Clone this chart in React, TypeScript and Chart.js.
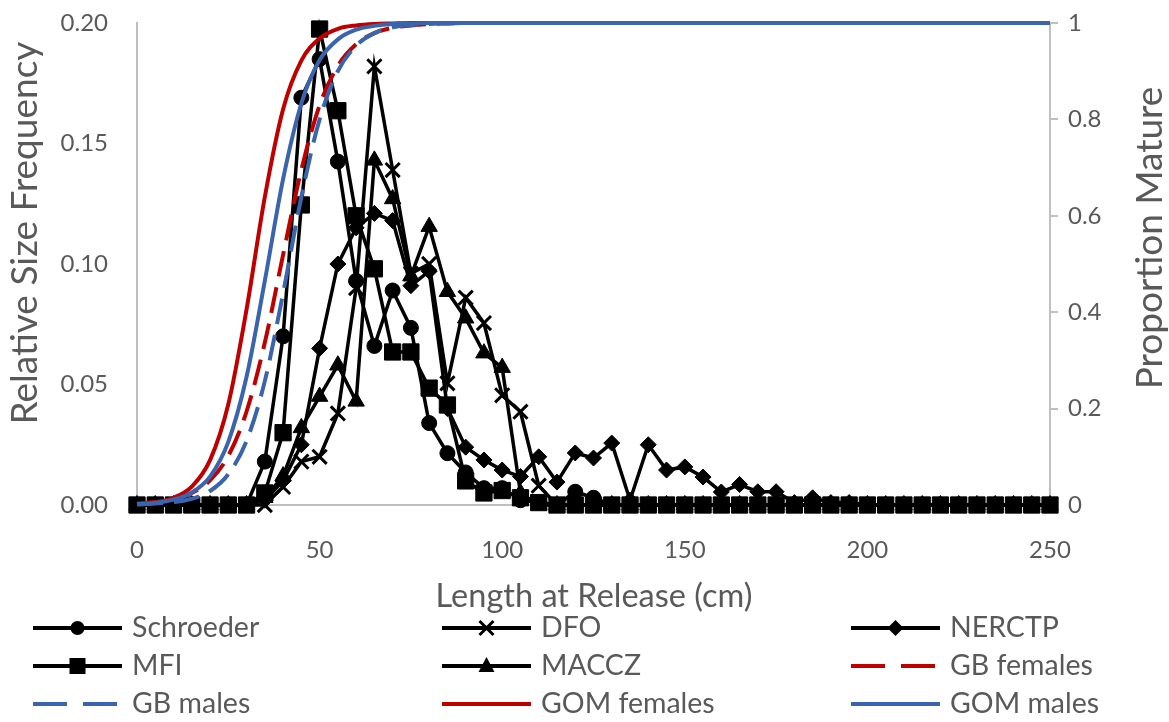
import React, { useEffect, useRef } from 'react';
import { Chart, registerables } from 'chart.js';

Chart.register(...registerables);

// Length at release (cm)
const lengths = [
  0, 5, 10, 15, 20, 25, 30, 35, 40, 45, 50, 55, 60, 65, 70, 75, 80, 85, 90, 95,
  100, 105, 110, 115, 120, 125, 130, 135, 140, 145, 150, 155, 160, 165, 170, 175, 180, 185, 190, 195,
  200, 205, 210, 215, 220, 225, 230, 235, 240, 245, 250,
];

// Relative size frequency (left axis)
const schroeder = [
  0, 0, 0, 0, 0, 0, 0, 0.018, 0.07, 0.169, 0.185, 0.1425, 0.093, 0.066, 0.089, 0.0735, 0.034, 0.0215, 0.0135, 0.007,
  0.007, 0.002, 0.001, 0, 0.0055, 0.003, 0, 0, 0, 0, 0, 0, 0, 0, 0, 0, 0, 0, 0, 0,
  0, 0, 0, 0, 0, 0, 0, 0, 0, 0, 0,
];
const dfo = [
  0, 0, 0, 0, 0, 0, 0, 0, 0.0075, 0.018, 0.02, 0.038, 0.09, 0.182, 0.139, 0.096, 0.1, 0.0505, 0.086, 0.0755,
  0.0455, 0.0387, 0.008, 0, 0, 0, 0, 0, 0, 0, 0, 0, 0, 0, 0, 0, 0, 0, 0, 0,
  0, 0, 0, 0, 0, 0, 0, 0, 0, 0, 0,
];
const nerctp = [
  0, 0, 0, 0, 0, 0, 0, 0.002, 0.01, 0.025, 0.065, 0.1, 0.115, 0.121, 0.118, 0.091, 0.097, 0.04, 0.024, 0.0187,
  0.0145, 0.0118, 0.02, 0.0095, 0.0216, 0.0195, 0.0257, 0.002, 0.025, 0.0145, 0.0158, 0.0116, 0.0054, 0.0085, 0.0055, 0.0055, 0.001, 0.003, 0.001, 0.001,
  0, 0, 0, 0, 0, 0, 0, 0, 0, 0, 0,
];
const mfi = [
  0, 0, 0, 0, 0, 0, 0, 0.005, 0.03, 0.1245, 0.1975, 0.1636, 0.12, 0.098, 0.0635, 0.0635, 0.0485, 0.0415, 0.01, 0.005,
  0.006, 0.003, 0.001, 0, 0, 0, 0, 0, 0, 0, 0, 0, 0, 0, 0, 0, 0, 0, 0, 0,
  0, 0, 0, 0, 0, 0, 0, 0, 0, 0, 0,
];
const maccz = [
  0, 0, 0, 0, 0, 0, 0, 0.003, 0.012, 0.032, 0.045, 0.058, 0.043, 0.143, 0.127, 0.095, 0.1155, 0.0885, 0.0775, 0.063,
  0.057, 0.005, 0, 0, 0, 0, 0, 0, 0, 0, 0, 0, 0, 0, 0, 0, 0, 0, 0, 0,
  0, 0, 0, 0, 0, 0, 0, 0, 0, 0, 0,
];

// Proportion mature (right axis)
const gbFemales = [
  0.003, 0.006, 0.012, 0.025, 0.051, 0.102, 0.194, 0.337, 0.519, 0.695, 0.829, 0.911, 0.956, 0.979, 0.99, 0.995, 0.998, 0.999, 1, 1,
  1, 1, 1, 1, 1, 1, 1, 1, 1, 1, 1, 1, 1, 1, 1, 1, 1, 1, 1, 1,
  1, 1, 1, 1, 1, 1, 1, 1, 1, 1, 1,
];
const gbMales = [
  0.001, 0.003, 0.006, 0.013, 0.029, 0.064, 0.133, 0.257, 0.439, 0.639, 0.8, 0.9, 0.953, 0.979, 0.991, 0.996, 0.998, 0.999, 1, 1,
  1, 1, 1, 1, 1, 1, 1, 1, 1, 1, 1, 1, 1, 1, 1, 1, 1, 1, 1, 1,
  1, 1, 1, 1, 1, 1, 1, 1, 1, 1, 1,
];
const gomFemales = [
  0.002, 0.006, 0.015, 0.038, 0.093, 0.209, 0.406, 0.639, 0.821, 0.922, 0.968, 0.988, 0.995, 0.998, 0.999, 1, 1, 1, 1, 1,
  1, 1, 1, 1, 1, 1, 1, 1, 1, 1, 1, 1, 1, 1, 1, 1, 1, 1, 1, 1,
  1, 1, 1, 1, 1, 1, 1, 1, 1, 1, 1,
];
const gomMales = [
  0.002, 0.0045, 0.011, 0.026, 0.059, 0.131, 0.266, 0.465, 0.676, 0.833, 0.923, 0.966, 0.986, 0.994, 0.998, 0.999, 1, 1, 1, 1,
  1, 1, 1, 1, 1, 1, 1, 1, 1, 1, 1, 1, 1, 1, 1, 1, 1, 1, 1, 1,
  1, 1, 1, 1, 1, 1, 1, 1, 1, 1, 1,
];

const xTitle = 'Length at Release (cm)';
const yTitle = 'Relative Size Frequency';
const y2Title = 'Proportion Mature';

const FONT = 'Lato';
const TEXT = '#595959';
const AXIS = '#bfbfbf';
const RED = '#C00000';
const BLUE = '#3A64AE';

const toPts = (vals: number[]) => vals.map((v, i) => ({ x: lengths[i], y: v }));

type Item = { label: string; values: number[]; color: string; dash: number[]; marker: string | null; axis: string };
const series: Item[] = [
  { label: 'Schroeder', values: schroeder, color: '#000', dash: [], marker: 'circle', axis: 'y' },
  { label: 'DFO', values: dfo, color: '#000', dash: [], marker: 'crossRot', axis: 'y' },
  { label: 'NERCTP', values: nerctp, color: '#000', dash: [], marker: 'rectRot', axis: 'y' },
  { label: 'MFI', values: mfi, color: '#000', dash: [], marker: 'rect', axis: 'y' },
  { label: 'MACCZ', values: maccz, color: '#000', dash: [], marker: 'triangle', axis: 'y' },
  { label: 'GB females', values: gbFemales, color: RED, dash: [26, 11], marker: null, axis: 'y2' },
  { label: 'GB males', values: gbMales, color: BLUE, dash: [26, 11], marker: null, axis: 'y2' },
  { label: 'GOM females', values: gomFemales, color: RED, dash: [], marker: null, axis: 'y2' },
  { label: 'GOM males', values: gomMales, color: BLUE, dash: [], marker: null, axis: 'y2' },
];

const markerRadius: Record<string, number> = { circle: 7.5, crossRot: 10, rectRot: 8, rect: 11.5, triangle: 9.5 };

function drawMarker(ctx: CanvasRenderingContext2D, type: string, x: number, y: number) {
  ctx.save();
  ctx.fillStyle = '#000';
  ctx.strokeStyle = '#000';
  ctx.setLineDash([]);
  ctx.beginPath();
  if (type === 'circle') {
    ctx.arc(x, y, 7, 0, Math.PI * 2);
    ctx.fill();
  } else if (type === 'crossRot') {
    ctx.lineWidth = 3;
    ctx.moveTo(x - 7, y - 7);
    ctx.lineTo(x + 7, y + 7);
    ctx.moveTo(x + 7, y - 7);
    ctx.lineTo(x - 7, y + 7);
    ctx.stroke();
  } else if (type === 'rectRot') {
    ctx.moveTo(x, y - 8);
    ctx.lineTo(x + 8, y);
    ctx.lineTo(x, y + 8);
    ctx.lineTo(x - 8, y);
    ctx.closePath();
    ctx.fill();
  } else if (type === 'rect') {
    ctx.rect(x - 8, y - 8, 16, 16);
    ctx.fill();
  } else if (type === 'triangle') {
    ctx.moveTo(x, y - 9);
    ctx.lineTo(x + 8, y + 6);
    ctx.lineTo(x - 8, y + 6);
    ctx.closePath();
    ctx.fill();
  }
  ctx.restore();
}

const overlayPlugin = {
  id: 'overlay',
  afterDraw(chart: any) {
    const ctx: CanvasRenderingContext2D = chart.ctx;
    ctx.save();
    ctx.fillStyle = TEXT;
    ctx.textAlign = 'center';
    ctx.textBaseline = 'middle';
    ctx.font = `32.5px ${FONT}`;
    ctx.fillText(xTitle, 594, 597);
    ctx.font = `37px ${FONT}`;
    ctx.save();
    ctx.translate(25, 233);
    ctx.rotate(-Math.PI / 2);
    ctx.fillText(yTitle, 0, 0);
    ctx.restore();
    ctx.save();
    ctx.translate(1150, 238);
    ctx.rotate(-Math.PI / 2);
    ctx.fillText(y2Title, 0, 0);
    ctx.restore();

    // legend
    const colX = [33, 442, 851];
    const rowY = [628, 666, 704];
    const lineLen = 89;
    series.forEach((s, i) => {
      const x0 = colX[i % 3];
      const y0 = rowY[Math.floor(i / 3)];
      ctx.save();
      ctx.strokeStyle = s.color;
      ctx.lineWidth = 4;
      ctx.lineCap = 'butt';
      ctx.setLineDash(s.dash.length ? [34, 16] : []);
      ctx.beginPath();
      ctx.moveTo(x0, y0);
      ctx.lineTo(x0 + lineLen, y0);
      ctx.stroke();
      ctx.restore();
      if (s.marker) drawMarker(ctx, s.marker, x0 + lineLen / 2, y0);
      ctx.fillStyle = TEXT;
      ctx.textAlign = 'left';
      ctx.textBaseline = 'middle';
      ctx.font = `28.5px ${FONT}`;
      ctx.fillText(s.label, x0 + 99, y0);
    });
    ctx.restore();
  },
};

export default function App() {
  const ref = useRef<HTMLCanvasElement | null>(null);
  useEffect(() => {
    if (!ref.current) return;
    const n = series.length;
    const datasets = series.map((s, i) => ({
      label: s.label,
      data: toPts(s.values),
      yAxisID: s.axis,
      borderColor: s.color,
      backgroundColor: s.color,
      borderWidth: s.marker ? 3.5 : 4,
      borderDash: s.dash,
      pointStyle: s.marker || 'circle',
      pointRadius: s.marker ? markerRadius[s.marker] : 0,
      pointBorderWidth: s.marker === 'crossRot' ? 3 : 1,
      pointBorderColor: '#000',
      pointBackgroundColor: '#000',
      tension: 0,
      cubicInterpolationMode: s.marker ? 'default' : 'monotone',
      clip: s.marker ? false : 4,
      order: n - i,
    }));
    const chart = new Chart(ref.current, {
      type: 'line',
      data: { datasets } as any,
      options: {
        animation: false,
        responsive: false,
        maintainAspectRatio: false,
        layout: { padding: { top: 23, bottom: 0, left: 0, right: 0 } },
        plugins: { legend: { display: false }, tooltip: { enabled: false } },
        scales: {
          x: {
            type: 'linear',
            min: 0,
            max: 250,
            ticks: { stepSize: 50, color: TEXT, font: { family: FONT, size: 24 }, padding: 31 },
            grid: { display: false, drawTicks: false },
            border: { display: true, color: AXIS, width: 2 },
            afterFit: (s: any) => { s.height = 217; },
          },
          y: {
            type: 'linear',
            position: 'left',
            min: 0,
            max: 0.2,
            ticks: {
              stepSize: 0.05,
              color: TEXT,
              font: { family: FONT, size: 24 },
              padding: 29,
              callback: (v: any) => Number(v).toFixed(2),
            },
            grid: { display: false, drawTicks: false },
            border: { display: true, color: AXIS, width: 2 },
            afterFit: (s: any) => { s.width = 137; s.paddingTop = 0; s.paddingBottom = 0; },
          },
          y2: {
            type: 'linear',
            position: 'right',
            min: 0,
            max: 1,
            ticks: {
              stepSize: 0.2,
              color: TEXT,
              font: { family: FONT, size: 24 },
              padding: 10,
              callback: (v: any) => {
                const x = Number(v);
                if (Math.abs(x) < 1e-9) return '0';
                if (Math.abs(x - 1) < 1e-9) return '1';
                return x.toFixed(1);
              },
            },
            grid: { display: true, drawOnChartArea: false, drawTicks: true, tickLength: 8, color: AXIS, lineWidth: 2 },
            border: { display: true, color: AXIS, width: 2 },
            afterFit: (s: any) => { s.width = 119; s.paddingTop = 0; s.paddingBottom = 0; },
          },
        },
      } as any,
      plugins: [overlayPlugin],
    });
    return () => chart.destroy();
  }, []);
  return (
    <div style={{ position: 'absolute', left: 0, top: 0, width: 1169, height: 722, background: '#fff' }}>
      <canvas ref={ref} width={1169} height={722} style={{ width: 1169, height: 722, display: 'block' }} />
    </div>
  );
}
